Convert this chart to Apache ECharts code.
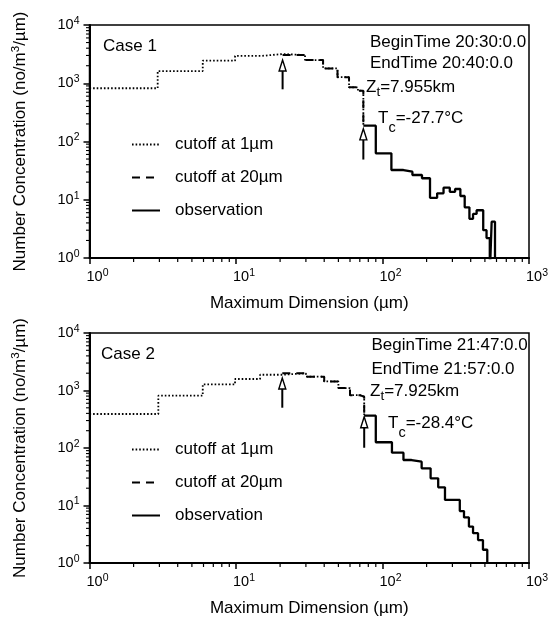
<!DOCTYPE html>
<html>
<head>
<meta charset="utf-8">
<script src="https://cdn.jsdelivr.net/npm/echarts@6/dist/echarts.min.js"></script>
<style>
  html, body { margin: 0; padding: 0; background: #fff; }
  #chart { width: 554px; height: 621px; }
</style>
</head>
<body>
<div id="chart"></div>
<script>
// ---- Case 1: 20:30 - 20:40 ----
const case1CutEdges  = [1, 2.92, 5.93, 9.85, 15, 20.8, 29.6, 39.3, 49.3, 59.1, 68, 74];
const case1CutValues = [820, 1620, 2440, 2950, 3170, 3050, 2500, 1800, 1270, 850, 745];
const case1Cut20From = 20.8;
const case1ObsEdges  = [74, 90, 115, 139, 160, 186, 211, 236, 261, 288, 313, 340, 364, 392, 415, 439, 487, 513, 540, 556, 586];
const case1ObsValues = [187, 62.7, 32.4, 30.3, 26.6, 23.4, 10.8, 12.9, 16.1, 13.7, 15.3, 11.6, 7.4, 4.7, 5.7, 6.6, 3.0, 2.2, 0.5, 4.2];
// arrows: [size, tail value, head value]
const case1Arrows = [[20.8, 787, 2500], [74, 49, 165]];

// ---- Case 2: 21:47 - 21:57 ----
const case2CutEdges  = [1, 2.95, 5.93, 9.85, 14.6, 20.7, 30, 40, 50, 60, 70, 75];
const case2CutValues = [390, 812, 1280, 1585, 1880, 1990, 1740, 1440, 1100, 830, 780];
const case2Cut20From = 20.7;
const case2ObsEdges  = [75, 90, 116, 139, 158, 185, 213, 240, 267, 337, 360, 389, 415, 449, 485, 519];
const case2ObsValues = [365, 126, 82.8, 61.8, 57.8, 44.4, 29.7, 20.7, 12.5, 8.0, 6.2, 4.3, 3.3, 2.5, 1.7];
const case2Arrows = [[20.7, 502, 1650], [75, 101, 350]];

// axis ranges
const xMin = 1, xMax = 1000;
const yMin = 1, yMax = 10000;

const seriesNames = ['cutoff at 1\u00b5m', 'cutoff at 20\u00b5m', 'observation'];

const FONT = '"Liberation Sans", Arial, Helvetica, sans-serif';

// minor tick positions (2..9 in every decade)
const xMinor = [], yMinor = [];
for (let k = 0; Math.pow(10, k) < xMax; k++) for (let m = 2; m <= 9; m++) xMinor.push(m * Math.pow(10, k));
for (let k = 0; Math.pow(10, k) < yMax; k++) for (let m = 2; m <= 9; m++) yMinor.push(m * Math.pow(10, k));

// bin edges + bin values -> step outline
function histogram(edges, values) {
  const pts = [];
  values.forEach((v, i) => { pts.push([edges[i], v], [edges[i + 1], v]); });
  return pts;
}

function powLabel(v) {
  const e = Math.round(Math.log10(v));
  return '{sp|}{b|10}{s|' + e + '}';
}

const powRich = {
  sp: { width: 16 },
  b: { fontSize: 14.5, fontFamily: FONT, color: '#000', lineHeight: 16 },
  s: { fontSize: 10.5, fontFamily: FONT, color: '#000', lineHeight: 10, padding: [0, 0, 8, 0] }
};
const powRichY = {
  b: powRich.b,
  s: powRich.s
};

function xAxisFor(gi) {
  return {
    type: 'log', logBase: 10, gridIndex: gi, min: xMin, max: xMax,
    name: 'Maximum Dimension (\u00b5m)', nameLocation: 'middle', nameGap: 37,
    nameTextStyle: { fontSize: 17, fontFamily: FONT, color: '#000' },
    axisLine: { show: true, onZero: false, lineStyle: { color: '#000', width: 2 } },
    axisTick: { show: true, length: 6, lineStyle: { color: '#000', width: 1.5 } },
    axisLabel: { formatter: powLabel, rich: powRich, margin: 11, align: 'center' },
    splitLine: { show: false },
    minorTick: { show: false }
  };
}

function yAxisFor(gi) {
  return {
    type: 'log', logBase: 10, gridIndex: gi, min: yMin, max: yMax,
    name: 'Number Concentration (no/m{s|3}/\u00b5m)', nameLocation: 'middle', nameGap: 61, nameRotate: 90,
    nameTextStyle: {
      fontSize: 17, fontFamily: FONT, color: '#000',
      rich: {
        s: { fontSize: 11.5, fontFamily: FONT, color: '#000', lineHeight: 11, padding: [0, 0, 8, 0] }
      }
    },
    axisLine: { show: true, onZero: false, lineStyle: { color: '#000', width: 2 } },
    axisTick: { show: true, length: 6, lineStyle: { color: '#000', width: 1.5 } },
    axisLabel: { formatter: v => '{b|10}{s|' + Math.round(Math.log10(v)) + '}', rich: powRichY, margin: 10 },
    splitLine: { show: false },
    minorTick: { show: false }
  };
}

function caseSeries(gi, cutEdges, cutValues, cut20From, obsEdges, obsValues, arrows) {
  const join = [[cutEdges[cutEdges.length - 1], obsValues[0]]];
  const i20 = cutEdges.indexOf(cut20From);
  const cut1 = histogram(cutEdges, cutValues).concat(join);
  const cut20 = histogram(cutEdges.slice(i20), cutValues.slice(i20)).concat(join);
  const obs = histogram(obsEdges, obsValues).concat([[obsEdges[obsEdges.length - 1], yMin]]);
  const common = {
    type: 'line', xAxisIndex: gi, yAxisIndex: gi, symbol: 'none', silent: true, clip: true, animation: false,
    color: '#000', itemStyle: { color: '#000' }
  };
  return [
    Object.assign({}, common, {
      name: seriesNames[0], data: cut1, z: 3,
      lineStyle: { color: '#000', width: 1.8, type: [1.6, 2] }
    }),
    Object.assign({}, common, {
      name: seriesNames[1], data: cut20, z: 4,
      lineStyle: { color: '#000', width: 2, type: [8, 6] }
    }),
    Object.assign({}, common, {
      name: seriesNames[2], data: obs, z: 5,
      lineStyle: { color: '#000', width: 2.3, type: 'solid' }
    }),
    {
      type: 'custom', xAxisIndex: gi, yAxisIndex: gi, silent: true, z: 6, animation: false,
      data: arrows, encode: { x: 0, y: [1, 2] },
      renderItem: (params, api) => {
        const x = api.value(0);
        const pb = api.coord([x, api.value(1)]);
        const pt = api.coord([x, api.value(2)]);
        const hw = 3.5, hh = 11;
        return {
          type: 'group', children: [
            { type: 'line', shape: { x1: pb[0], y1: pb[1], x2: pt[0], y2: pt[1] + hh }, style: { stroke: '#000', lineWidth: 2 } },
            { type: 'polygon', shape: { points: [[pt[0], pt[1]], [pt[0] - hw, pt[1] + hh], [pt[0] + hw, pt[1] + hh]] },
              style: { fill: '#fff', stroke: '#000', lineWidth: 1.4 } }
          ]
        };
      }
    },
    {
      type: 'custom', xAxisIndex: gi, yAxisIndex: gi, silent: true, animation: false,
      data: xMinor.map(v => [v, yMin]),
      renderItem: (params, api) => {
        const p = api.coord([api.value(0), yMin]);
        return { type: 'line', shape: { x1: p[0], y1: p[1], x2: p[0], y2: p[1] + 4 }, style: { stroke: '#000', lineWidth: 1.2 } };
      }
    },
    {
      type: 'custom', xAxisIndex: gi, yAxisIndex: gi, silent: true, animation: false,
      data: yMinor.map(v => [xMin, v]),
      renderItem: (params, api) => {
        const p = api.coord([xMin, api.value(1)]);
        return { type: 'line', shape: { x1: p[0], y1: p[1], x2: p[0] - 3.5, y2: p[1] }, style: { stroke: '#000', lineWidth: 1.1 } };
      }
    }
  ];
}

function txt(x, y, text, rich) {
  return {
    type: 'text', x: x, y: y, silent: true,
    style: { text: text, fontSize: 17, fontFamily: FONT, fill: '#000', align: 'left', verticalAlign: 'middle', rich: rich || {} }
  };
}
const subT = { n: { fontSize: 17, fontFamily: FONT, lineHeight: 17 }, u: { fontSize: 13.5, fontFamily: FONT, lineHeight: 14, padding: [10, 0, 0, 0] } };
const subC = { n: { fontSize: 17, fontFamily: FONT, lineHeight: 17 }, u: { fontSize: 14.5, fontFamily: FONT, lineHeight: 14, padding: [20, 0, 0, 0] } };

function legendFor(top) {
  return {
    data: seriesNames, orient: 'vertical', left: 131, top: top, padding: 0,
    itemWidth: 28, itemHeight: 14, itemGap: 16, selectedMode: false,
    itemStyle: { opacity: 0 },
    textStyle: { fontSize: 17, fontFamily: FONT, color: '#000', lineHeight: 16, padding: [0, 0, 0, 10] }
  };
}

const option = {
  backgroundColor: '#fff',
  animation: false,
  grid: [
    { left: 89.5, top: 25, width: 439.5, height: 233, show: true, borderColor: '#000', borderWidth: 1.5 },
    { left: 89.5, top: 333, width: 439.5, height: 230, show: true, borderColor: '#000', borderWidth: 1.5 }
  ],
  xAxis: [xAxisFor(0), xAxisFor(1)],
  yAxis: [yAxisFor(0), yAxisFor(1)],
  legend: [legendFor(136), legendFor(441)],
  series: []
    .concat(caseSeries(0, case1CutEdges, case1CutValues, case1Cut20From, case1ObsEdges, case1ObsValues, case1Arrows))
    .concat(caseSeries(1, case2CutEdges, case2CutValues, case2Cut20From, case2ObsEdges, case2ObsValues, case2Arrows)),
  graphic: [
    txt(103, 46, 'Case 1'),
    txt(370, 42, 'BeginTime 20:30:0.0'),
    txt(370, 63.5, 'EndTime 20:40:0.0'),
    txt(366, 87, '{n|Z}{u|t}{n|=7.955km}', subT),
    txt(378, 118, '{n|T}{u|c}{n|=-27.7\u00b0C}', subC),
    txt(101, 354, 'Case 2'),
    txt(371.5, 345.5, 'BeginTime 21:47:0.0'),
    txt(371.5, 369, 'EndTime 21:57:0.0'),
    txt(370, 391.5, '{n|Z}{u|t}{n|=7.925km}', subT),
    txt(388, 423, '{n|T}{u|c}{n|=-28.4\u00b0C}', subC)
  ]
};

const chart = echarts.init(document.getElementById('chart'), null, { renderer: 'canvas' });
chart.setOption(option);
</script>
</body>
</html>
